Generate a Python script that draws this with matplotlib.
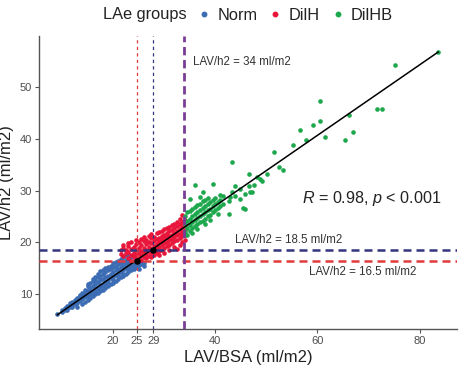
import numpy as np
import matplotlib
matplotlib.use("Agg")
import matplotlib.pyplot as plt
from matplotlib.lines import Line2D

plt.rcParams['font.family'] = ['Liberation Sans', 'DejaVu Sans']
plt.rcParams['mathtext.fontset'] = 'custom'
plt.rcParams['mathtext.rm'] = 'Liberation Sans'
plt.rcParams['mathtext.it'] = 'Liberation Sans:italic'

# ---------------- data ----------------
norm_x = [9.1, 10, 10, 10.5, 10.5, 11, 11, 11, 11.5, 11.5, 11.5, 12, 12, 12, 12,
          12.5, 12.5, 12.5, 13, 13, 13, 13, 13.5, 13.5, 13.5, 13.5, 14, 14, 14, 14,
          14.5, 14.5, 14.5, 14.5, 15, 15, 15, 15, 15, 15.5, 15.5, 15.5, 15.5,
          16, 16, 16, 16, 16, 16.5, 16.5, 16.5, 16.5, 16.5, 17, 17, 17, 17, 17,
          17.5, 17.5, 17.5, 17.5, 17.5, 18, 18, 18, 18, 18, 18.5, 18.5, 18.5, 18.5, 18.5,
          19, 19, 19, 19, 19, 19.5, 19.5, 19.5, 19.5, 20, 20, 20, 20, 20,
          20.5, 20.5, 20.5, 20.5, 21, 21, 21, 21, 21, 21.5, 21.5, 21.5, 21.5,
          22, 22, 22, 22, 22, 22.5, 22.5, 22.5, 22.5, 23, 23, 23, 23, 23,
          23.5, 23.5, 23.5, 24, 24, 24, 24, 24.5, 24.5, 24.5, 25, 25, 25,
          25.5, 25.5, 26, 26,
          13, 14, 14.5, 15, 15.5, 16, 16.5, 17, 17.5, 18, 18.5, 19, 19.5, 20,
          20.5, 21, 21.5, 22, 22.5, 23, 23.5, 24]
norm_y = [6.2, 6.6, 7.0, 7.3, 6.9, 7.4, 7.8, 7.0, 7.9, 7.5, 8.3, 8.0, 8.6, 7.6, 8.3,
          8.4, 8.9, 8.1, 8.7, 9.3, 8.4, 9.0, 9.1, 9.6, 8.7, 9.9, 9.3, 9.9, 10.3, 9.0,
          9.8, 10.4, 10.9, 9.4, 10.0, 10.8, 11.5, 9.6, 12.0, 10.4, 11.2, 12.2, 10.0,
          10.7, 11.6, 12.6, 13.0, 10.2, 11.0, 12.0, 12.8, 13.4, 10.6, 11.4, 12.3, 13.3, 14.0, 11.0,
          11.8, 12.7, 13.6, 14.4, 11.2, 12.0, 13.0, 14.0, 14.7, 11.6, 12.4, 13.3, 14.2, 15.0, 11.9,
          12.7, 13.6, 14.6, 15.3, 12.2, 13.1, 14.0, 14.8, 15.5, 13.4, 14.3, 15.2, 16.0, 12.8,
          13.8, 14.6, 15.5, 16.2, 14.0, 14.9, 15.8, 16.5, 13.5, 14.3, 15.2, 16.1, 16.8,
          14.6, 15.5, 16.3, 17.2, 14.0, 15.0, 15.8, 16.6, 17.5, 15.2, 16.0, 16.8, 17.6, 14.6,
          15.5, 16.3, 17.1, 15.8, 16.5, 17.3, 15.0, 15.3, 16.0, 16.9, 15.6, 16.2, 14.8,
          15.9, 16.4, 16.1, 15.5,
          7.6, 8.2, 8.6, 8.9, 9.3, 9.6, 10.0, 10.3, 10.6, 10.8, 11.2, 11.5, 11.9, 12.2,
          12.6, 12.9, 13.3, 13.5, 13.9, 14.2, 14.6, 14.9]

dilh_x = [21.5, 21.5, 22, 22, 22, 22.5, 22.5, 23, 23, 23, 23, 23.5, 23.5, 23.5, 23.5,
          24, 24, 24, 24.5, 24.5, 24.5, 24.5, 24.5, 25, 25, 25, 25,
          25.5, 25.5, 25.5, 25.5, 25.5, 26, 26, 26, 26, 26, 26.5, 26.5, 26.5, 26.5, 26.5,
          27, 27, 27, 27, 27, 27.5, 27.5, 27.5, 27.5, 27.5, 27.5, 28, 28, 28, 28, 28,
          28.5, 28.5, 28.5, 28.5, 28.5, 29, 29, 29, 29, 29, 29, 29.5, 29.5, 29.5, 29.5, 29.5,
          30, 30, 30, 30, 30, 30, 30.5, 30.5, 30.5, 30.5, 30.5, 31, 31, 31, 31, 31, 31,
          31.5, 31.5, 31.5, 31.5, 31.5, 32, 32, 32, 32, 32, 32, 32.5, 32.5, 32.5, 32.5, 32.5, 32.5,
          33, 33, 33, 33, 33, 33, 33.5, 33.5, 33.5, 33.5, 33.5, 33.5, 34, 34, 34, 34, 34]
dilh_y = [17.8, 18.5, 18.9, 17.4, 19.5, 17.9, 18.6, 17.0, 18.2, 19.3, 19.8, 16.5, 17.6, 18.8, 20.0,
          17.2, 18.0, 19.2, 16.8, 17.5, 18.5, 19.6, 20.4, 17.0, 18.0, 19.0, 20.0,
          16.6, 17.5, 18.4, 19.5, 20.6, 17.2, 18.1, 19.0, 20.2, 21.0, 16.9, 17.8, 18.6, 19.6, 20.5,
          17.4, 18.3, 19.2, 20.0, 21.2, 17.1, 18.0, 18.8, 19.8, 20.8, 21.6, 17.6, 18.5, 19.4, 20.2, 21.1,
          18.0, 18.9, 19.7, 20.6, 21.8, 18.3, 19.2, 20.0, 20.9, 22.0, 17.5, 18.6, 19.5, 20.4, 21.3, 22.2,
          18.9, 19.8, 20.7, 21.5, 22.5, 18.0, 19.3, 20.1, 21.0, 21.8, 22.8, 19.5, 20.4, 21.3, 22.2, 23.0, 18.5,
          19.8, 20.7, 21.5, 22.4, 23.4, 19.2, 20.2, 21.0, 21.9, 22.8, 23.6, 18.8, 20.5, 21.4, 22.2, 23.2, 24.0,
          19.5, 20.8, 21.6, 22.5, 23.5, 24.6, 20.0, 21.2, 22.0, 23.0, 24.0, 25.2, 20.5, 21.5, 22.4, 23.4, 24.4]

dilhb_x = [34, 34, 34, 34.5, 34.5, 34.5, 34.5, 35, 35, 35, 35, 35, 35.5, 35.5, 35.5, 35.5, 35.5,
           36, 36, 36, 36, 36, 36.5, 36.5, 36.5, 36.5, 36.5, 37, 37, 37, 37, 37,
           37.5, 37.5, 37.5, 37.5, 37.5, 38, 38, 38, 38, 38, 38.5, 38.5, 38.5, 38.5,
           39, 39, 39, 39, 39.5, 39.5, 39.5, 39.5, 40, 40, 40, 40.5, 40.5, 40.5,
           41, 41, 41, 41.6, 41.6, 42.6, 42.6, 42.9, 43.3, 43.3, 43.9, 43.9, 44.9, 44.9,
           45.5, 45.9, 45.9, 46.5, 46.5, 46.8, 47.2, 47.5, 48.1, 48.8, 49.1, 50.1,
           51.4, 52.4, 53.2, 55.2, 56.6, 57.8, 59.1, 60.5, 60.5, 61.5, 65.4, 66.2, 67.0,
           71.6, 72.7, 75.2, 83.6]
dilhb_y = [22.0, 23.5, 25.0, 21.5, 22.8, 24.2, 25.8, 22.2, 23.3, 24.6, 26.0, 28.4, 22.8, 23.9, 25.0, 26.4, 21.8,
           23.1, 24.3, 25.5, 26.8, 31.0, 23.5, 24.7, 25.9, 27.2, 22.6, 23.9, 25.0, 26.2, 27.5, 28.8,
           24.2, 25.4, 26.6, 27.9, 29.7, 24.6, 25.8, 27.0, 28.2, 23.5, 25.0, 26.2, 27.4, 28.6,
           25.3, 26.5, 27.8, 24.4, 25.8, 27.0, 28.2, 31.3, 26.2, 27.4, 28.6, 26.6, 27.8, 25.4,
           27.0, 28.2, 29.2, 29.0, 27.5, 25.5, 28.0, 28.7, 35.5, 29.8, 30.8, 29.0, 28.4, 30.3,
           26.7, 29.4, 26.5, 33.1, 30.8, 29.7, 29.7, 31.0, 32.6, 32.3, 31.8, 33.1,
           37.4, 34.5, 34.0, 38.8, 41.7, 39.8, 42.7, 47.2, 43.4, 40.3, 39.7, 44.5, 41.3,
           45.8, 45.8, 54.3, 56.7]

group_labels = ["Norm", "DilH", "DilHB"]
legend_title = "LAe groups"

fit_slope = 0.68          # regression line
fit_intercept = -0.15

h_thresholds = [18.5, 16.5]          # LAV/h2 cut-offs (horizontal lines)
v_thresholds = [24.6, 27.9, 33.8]    # LAV/BSA lines (red, navy, purple)
v_tick_labels = ["25", "29"]
cut_x = [24.6, 27.9]                 # black points on regression line
cut_y = [16.5, 18.5]

x_ticks = [20, 40, 60, 80]
y_ticks = [10, 20, 30, 40, 50]

stat_text = ["0.98", "0.001"]
note_34 = "LAV/h2 = 34 ml/m2"
note_185 = "LAV/h2 = 18.5 ml/m2"
note_165 = "LAV/h2 = 16.5 ml/m2"

# ---------------- figure ----------------
c_blue = "#3c6db4"
c_red = "#e8163a"
c_green = "#1ea84e"
c_navy = "#34347f"
c_dred = "#e03a3a"
c_purple = "#7a3d96"
grey_txt = "#4d4d4d"

fig = plt.figure(figsize=(4.68, 3.66), dpi=100)
ax = fig.add_axes([39 / 468, 1 - 329 / 366, (457 - 39) / 468, (329 - 36) / 366])

ms = 11
ax.scatter(norm_x, norm_y, s=ms, color=c_blue, linewidths=0, zorder=3)
ax.scatter(dilh_x, dilh_y, s=ms, color=c_red, linewidths=0, zorder=3)
ax.scatter(dilhb_x, dilhb_y, s=ms, color=c_green, linewidths=0, zorder=3)

all_x = np.array(norm_x + dilh_x + dilhb_x, dtype=float)
xx = np.linspace(all_x.min(), all_x.max(), 100)
ax.plot(xx, fit_slope * xx + fit_intercept, color="black", lw=1.1, zorder=4)

# threshold lines
ax.axhline(h_thresholds[0], color=c_navy, lw=1.8, dashes=(3.2, 2.0), zorder=5)
ax.axhline(h_thresholds[1], color=c_dred, lw=1.8, dashes=(3.2, 2.0), zorder=5)
ax.axvline(v_thresholds[0], color=c_dred, lw=0.9, dashes=(2.6, 2.6), zorder=5)
ax.axvline(v_thresholds[1], color=c_navy, lw=0.9, dashes=(2.6, 2.6), zorder=5)
ax.axvline(v_thresholds[2], color=c_purple, lw=2.0, dashes=(3.0, 1.7), zorder=5)

ax.scatter(cut_x, cut_y, s=22, color="black", zorder=6, linewidths=0)

# texts
ax.text(35.7, 54.8, note_34, fontsize=8.3, color="#333333", ha="left", va="center")
ax.text(54.3, 20.5, note_185, fontsize=8.3, color="#333333", ha="center", va="center")
ax.text(68.9, 14.2, note_165, fontsize=8.3, color="#333333", ha="center", va="center")
ax.text(84.3, 28.5, r"$R$ = %s, $p$ < %s" % (stat_text[0], stat_text[1]),
        fontsize=11.6, color="#222222", ha="right", va="center")

ax.set_xlim(5.5, 87.3)
ax.set_ylim(3.3, 59.8)
xt = x_ticks[:1] + v_thresholds[:2] + x_ticks[1:]
xl = [str(x_ticks[0])] + v_tick_labels + [str(v) for v in x_ticks[1:]]
ax.set_xticks(xt)
ax.set_xticklabels(xl)
ax.set_yticks(y_ticks)

for s in ["top", "right"]:
    ax.spines[s].set_visible(False)
for s in ["left", "bottom"]:
    ax.spines[s].set_color("#555555")
    ax.spines[s].set_linewidth(1.0)
ax.tick_params(colors="#555555", labelcolor=grey_txt, labelsize=8, length=3, width=0.8, pad=2)

ax.set_xlabel("LAV/BSA (ml/m2)", fontsize=12, color="#222222", labelpad=3)
ax.set_ylabel("LAV/h2 (ml/m2)", fontsize=12, color="#222222", labelpad=4)

# legend
fig.text(103 / 468, 1 - 15 / 366, legend_title, fontsize=11.8, color="#222222", ha="left", va="center")
handles = [Line2D([], [], marker="o", ls="", color=c, markersize=3.2) for c in (c_blue, c_red, c_green)]
fig.legend(handles, group_labels, loc="center left", bbox_to_anchor=(196 / 468, 1 - 15 / 366),
           ncol=3, frameon=False, fontsize=11.8, handlelength=1.0, handletextpad=0.3,
           columnspacing=0.6, borderpad=0, borderaxespad=0, labelcolor="#222222")

fig.savefig("out.png", dpi=100)
